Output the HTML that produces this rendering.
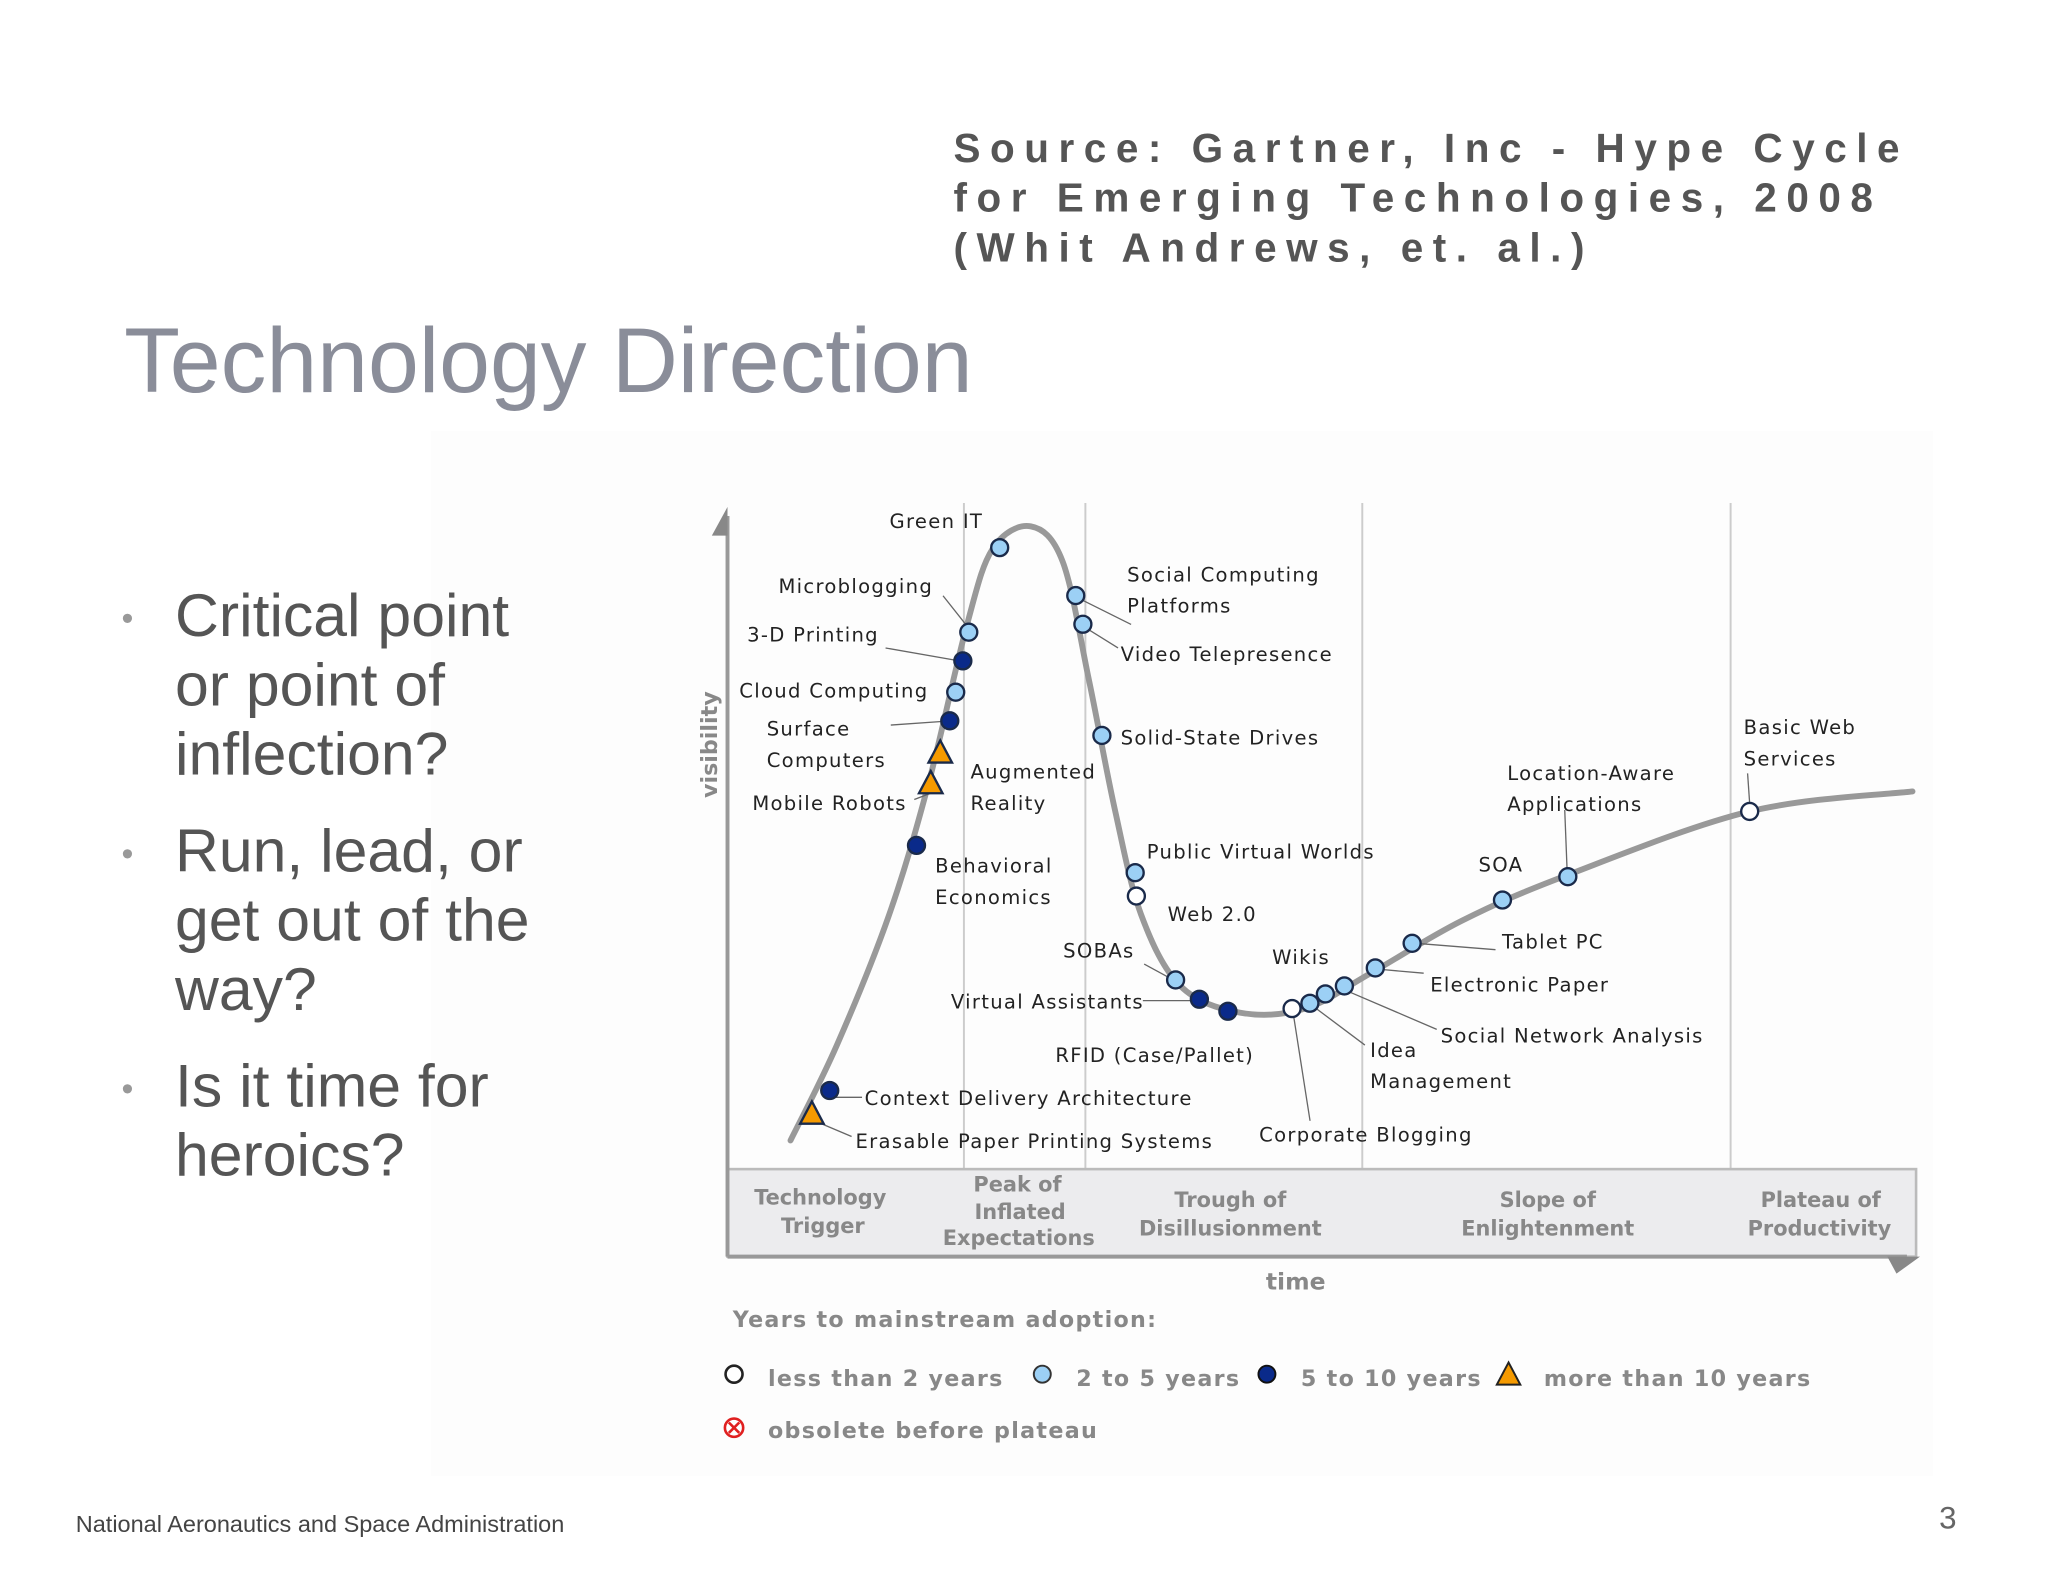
<!DOCTYPE html>
<html><head><meta charset="utf-8">
<style>
html,body{margin:0;padding:0;background:#fff;}
svg{display:block;}
.lbl{font-family:"DejaVu Sans","Liberation Sans",sans-serif;font-size:15px;fill:#222;letter-spacing:1px;}
.ph{font-family:"DejaVu Sans","Liberation Sans",sans-serif;font-size:16px;fill:#888;font-weight:bold;text-anchor:middle;}
.leg{font-family:"DejaVu Sans","Liberation Sans",sans-serif;font-size:17px;fill:#888;font-weight:bold;letter-spacing:1px;}
</style></head>
<body>
<svg id="s" width="2048" height="1582" viewBox="0 0 1568 1211" xmlns="http://www.w3.org/2000/svg">
<rect x="0" y="0" width="1568" height="1211" fill="#fff"/>
<rect x="330" y="330" width="1150" height="800" fill="#fdfdfd"/>
<g font-family="'Liberation Sans',sans-serif" font-weight="bold" font-size="31" fill="#555" letter-spacing="7.3">
<text x="730" y="124">Source: Gartner, Inc - Hype Cycle</text>
<text x="730" y="162">for Emerging Technologies, 2008</text>
<text x="730" y="200">(Whit Andrews, et. al.)</text>
</g>
<text x="95" y="300" font-family="'Liberation Sans',sans-serif" font-size="70" fill="#8a8d99">Technology Direction</text>
<g font-family="'Liberation Sans',sans-serif" font-size="46.5" fill="#555">
<text x="93" y="482" font-size="26" fill="#999">•</text>
<text x="134" y="487">Critical point</text><text x="134" y="540">or point of</text><text x="134" y="593">inflection?</text>
<text x="93" y="662" font-size="26" fill="#999">•</text>
<text x="134" y="667">Run, lead, or</text><text x="134" y="720">get out of the</text><text x="134" y="773">way?</text>
<text x="93" y="842" font-size="26" fill="#999">•</text>
<text x="134" y="847">Is it time for</text><text x="134" y="900">heroics?</text>
</g>
<text x="58" y="1173" font-family="'Liberation Sans',sans-serif" font-size="18" fill="#444">National Aeronautics and Space Administration</text>
<text x="1498" y="1170" font-family="'Liberation Sans',sans-serif" font-size="24" fill="#666" text-anchor="end">3</text>

<g id="chart">
<g stroke="#ccc" stroke-width="1.5">
<line x1="738" y1="385" x2="738" y2="895"/><line x1="831" y1="385" x2="831" y2="895"/>
<line x1="1043" y1="385" x2="1043" y2="895"/><line x1="1325" y1="385" x2="1325" y2="895"/>
</g>
<rect x="557" y="895" width="910" height="67" fill="#ececee" stroke="#bbb" stroke-width="2"/>
<line x1="557" y1="395" x2="557" y2="962" stroke="#999" stroke-width="3"/>
<polygon points="545,410 557,388 557,410" fill="#888"/>
<line x1="557" y1="962" x2="1460" y2="962" stroke="#999" stroke-width="3"/>
<polygon points="1445,962 1470,962 1452,975" fill="#888"/>
<text x="549" y="570" transform="rotate(-90 549 570)" text-anchor="middle" font-family="'DejaVu Sans',sans-serif" font-weight="bold" font-size="17" fill="#888">visibility</text>
<text x="992" y="987" text-anchor="middle" font-family="'DejaVu Sans',sans-serif" font-weight="bold" font-size="18" fill="#888">time</text>
<g>
<text class="ph" x="628" y="922">Technology</text><text class="ph" x="630" y="944">Trigger</text>
<text class="ph" x="779" y="912">Peak of</text><text class="ph" x="781" y="933">Inflated</text><text class="ph" x="780" y="953">Expectations</text>
<text class="ph" x="942" y="924">Trough of</text><text class="ph" x="942" y="946">Disillusionment</text>
<text class="ph" x="1185" y="924">Slope of</text><text class="ph" x="1185" y="946">Enlightenment</text>
<text class="ph" x="1394" y="924">Plateau of</text><text class="ph" x="1393" y="946">Productivity</text>
</g>
<g id="curve"></g>
<g id="leaders" stroke="#666" stroke-width="1">
<line x1="722" y1="456" x2="741" y2="480"/><line x1="678" y1="496" x2="735" y2="506"/>
<line x1="682" y1="555" x2="725" y2="552"/><line x1="713" y1="607" x2="700" y2="612"/>
<line x1="828" y1="459" x2="866" y2="478"/><line x1="832" y1="481" x2="856" y2="496"/>
<line x1="876" y1="738" x2="898" y2="750"/><line x1="875" y1="766" x2="915" y2="766"/>
<line x1="640" y1="840" x2="660" y2="840"/><line x1="626" y1="859" x2="652" y2="870"/>
<line x1="990" y1="775" x2="1003" y2="858"/><line x1="1005" y1="770" x2="1045" y2="800"/>
<line x1="1030" y1="758" x2="1100" y2="788"/><line x1="1056" y1="742" x2="1090" y2="745"/>
<line x1="1083" y1="722" x2="1145" y2="727"/><line x1="1200" y1="671" x2="1198" y2="620"/>
<line x1="1340" y1="621" x2="1338" y2="592"/>
</g>
<g id="points"></g>
<g>
<text class="lbl" x="681" y="404">Green IT</text>
<text class="lbl" x="596" y="454">Microblogging</text>
<text class="lbl" x="572" y="491">3-D Printing</text>
<text class="lbl" x="566" y="534">Cloud Computing</text>
<text class="lbl" x="587" y="563">Surface</text><text class="lbl" x="587" y="587">Computers</text>
<text class="lbl" x="576" y="620">Mobile Robots</text>
<text class="lbl" x="743" y="596">Augmented</text><text class="lbl" x="743" y="620">Reality</text>
<text class="lbl" x="716" y="668">Behavioral</text><text class="lbl" x="716" y="692">Economics</text>
<text class="lbl" x="863" y="445">Social Computing</text><text class="lbl" x="863" y="469">Platforms</text>
<text class="lbl" x="858" y="506">Video Telepresence</text>
<text class="lbl" x="858" y="570">Solid-State Drives</text>
<text class="lbl" x="878" y="657">Public Virtual Worlds</text>
<text class="lbl" x="894" y="705">Web 2.0</text>
<text class="lbl" x="814" y="733">SOBAs</text>
<text class="lbl" x="728" y="772">Virtual Assistants</text>
<text class="lbl" x="808" y="813">RFID (Case/Pallet)</text>
<text class="lbl" x="662" y="846">Context Delivery Architecture</text>
<text class="lbl" x="655" y="879">Erasable Paper Printing Systems</text>
<text class="lbl" x="964" y="874">Corporate Blogging</text>
<text class="lbl" x="974" y="738">Wikis</text>
<text class="lbl" x="1049" y="809">Idea</text><text class="lbl" x="1049" y="833">Management</text>
<text class="lbl" x="1103" y="798">Social Network Analysis</text>
<text class="lbl" x="1095" y="759">Electronic Paper</text>
<text class="lbl" x="1150" y="726">Tablet PC</text>
<text class="lbl" x="1132" y="667">SOA</text>
<text class="lbl" x="1154" y="597">Location-Aware</text><text class="lbl" x="1154" y="621">Applications</text>
<text class="lbl" x="1335" y="562">Basic Web</text><text class="lbl" x="1335" y="586">Services</text>
</g>
<g>
<text class="leg" x="561" y="1016" fill="#777">Years to mainstream adoption:</text>
<g><circle cx="562" cy="1052" r="6.5" fill="#fff" stroke="#222" stroke-width="2"/><text class="leg" x="588" y="1061">less than 2 years</text></g>
<g><circle cx="798" cy="1052" r="6.5" fill="#9cd0f5" stroke="#333" stroke-width="1.5"/><text class="leg" x="824" y="1061">2 to 5 years</text></g>
<g><circle cx="970" cy="1052" r="6.5" fill="#0a2a8a" stroke="#111" stroke-width="1.5"/><text class="leg" x="996" y="1061">5 to 10 years</text></g>
<g><polygon points="1155,1043 1146,1060 1164,1060" fill="#f59a00" stroke="#222" stroke-width="1.5"/><text class="leg" x="1182" y="1061">more than 10 years</text></g>
<g><circle cx="562" cy="1093" r="7" fill="#fff" stroke="#e02020" stroke-width="2"/><path d="M558,1089 L566,1097 M566,1089 L558,1097" stroke="#e02020" stroke-width="2"/><text class="leg" x="588" y="1101">obsolete before plateau</text></g>
</g>
</g>
</svg>
<script>
// data (time 0-100, visibility 0-100)
const names=["Green IT","Microblogging","3-D Printing","Cloud Computing","Surface Computers","Augmented Reality","Mobile Robots","Behavioral Economics","Context Delivery Architecture","Erasable Paper Printing Systems","Social Computing Platforms","Video Telepresence","Solid-State Drives","Public Virtual Worlds","Web 2.0","SOBAs","Virtual Assistants","RFID (Case/Pallet)","Corporate Blogging","Idea Management","Wikis","Social Network Analysis","Electronic Paper","Tablet PC","Location-Aware Applications","SOA","Basic Web Services"];
const timeVals=[22.9,20.3,19.8,19.2,18.7,17.9,17.1,15.9,8.6,7.1,29.3,29.9,31.5,34.3,34.4,37.7,39.7,42.1,47.5,49.0,50.3,51.9,54.5,57.6,65.2,70.7,86.0];
const visVals=[93.3,80.6,76.3,71.6,67.3,62.4,57.8,48.6,11.8,8.2,86.1,81.8,65.1,44.5,41.0,28.4,25.5,23.7,24.1,24.9,26.3,27.5,30.2,33.9,40.4,43.9,53.7];
const adoption=["2-5","2-5","5-10","2-5","5-10","10+","10+","5-10","5-10","10+","2-5","2-5","2-5","2-5","<2","2-5","5-10","5-10","<2","2-5","2-5","2-5","2-5","2-5","2-5","2-5","<2"];
const curveT=[5.3,9.2,13.6,16.9,20.1,22.3,25.5,28.2,30.4,32.6,34.8,38.1,43.1,48.6,54.1,61.8,70.6,86.0,99.7];
const curveV=[4.3,18.6,38.2,57.8,81.4,93.1,96.5,91.2,73.5,53.9,38.2,27.5,23.5,24.1,29.4,37.3,44.1,53.7,56.7];
const X=t=>557+t*9.1, Y=v=>895-v*5.1;
const NS="http://www.w3.org/2000/svg";
const pts=curveT.map((t,i)=>[X(t),Y(curveV[i])]);
let d="M"+pts[0][0]+","+pts[0][1];
for(let i=0;i<pts.length-1;i++){
 const p0=pts[Math.max(0,i-1)],p1=pts[i],p2=pts[i+1],p3=pts[Math.min(pts.length-1,i+2)];
 const c1=[p1[0]+(p2[0]-p0[0])/6,p1[1]+(p2[1]-p0[1])/6],c2=[p2[0]-(p3[0]-p1[0])/6,p2[1]-(p3[1]-p1[1])/6];
 d+=` C${c1[0]},${c1[1]} ${c2[0]},${c2[1]} ${p2[0]},${p2[1]}`;
}
const path=document.createElementNS(NS,"path");
path.setAttribute("d",d);path.setAttribute("fill","none");path.setAttribute("stroke","#999");path.setAttribute("stroke-width","4.5");path.setAttribute("stroke-linecap","round");


document.getElementById("curve").appendChild(path);
const g=document.getElementById("points");
names.forEach((n,i)=>{
 const cx=X(timeVals[i]),cy=Y(visVals[i]);let el;
 if(adoption[i]==="10+"){el=document.createElementNS(NS,"polygon");el.setAttribute("points",`${cx},${cy-10} ${cx-9},${cy+7} ${cx+9},${cy+7}`);el.setAttribute("fill","#f59a00");}
 else{el=document.createElementNS(NS,"circle");el.setAttribute("cx",cx);el.setAttribute("cy",cy);el.setAttribute("r","6.5");
  el.setAttribute("fill",adoption[i]==="<2"?"#fff":adoption[i]==="2-5"?"#9cd0f5":"#0a2a8a");}
 el.setAttribute("stroke","#1a2a4a");el.setAttribute("stroke-width","1.8");
 
 
 g.appendChild(el);
});
</script>
</body></html>
